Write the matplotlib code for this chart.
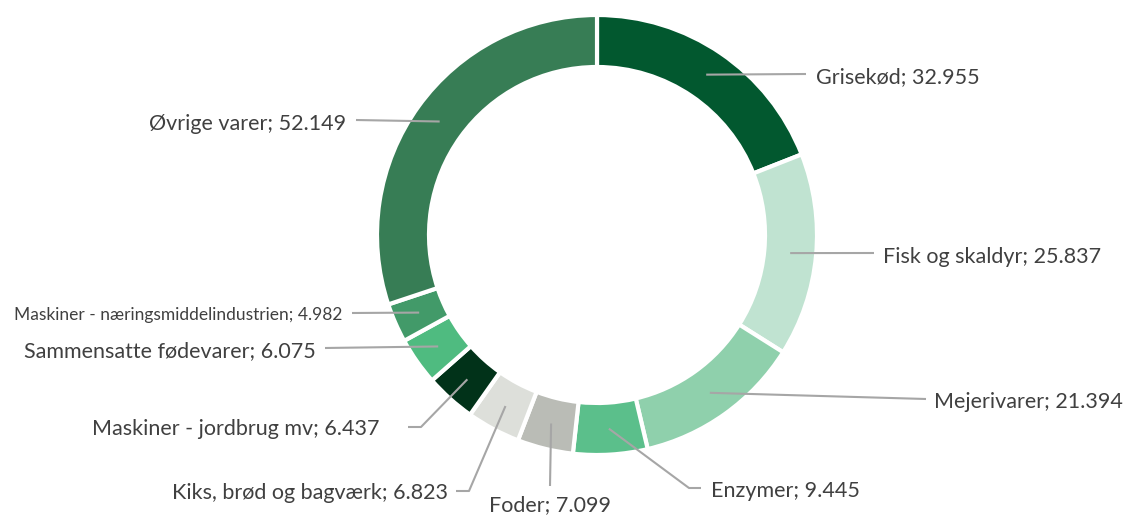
import numpy as np
import matplotlib
matplotlib.use('Agg')
import matplotlib.pyplot as plt

plt.rcParams['font.family'] = ['Lato', 'DejaVu Sans']

# data
labels = ['Grisekød', 'Fisk og skaldyr', 'Mejerivarer', 'Enzymer', 'Foder',
          'Kiks, brød og bagværk', 'Maskiner - jordbrug mv',
          'Sammensatte fødevarer', 'Maskiner - næringsmiddelindustrien',
          'Øvrige varer']
values = [32.955, 25.837, 21.394, 9.445, 7.099, 6.823, 6.437, 6.075, 4.982, 52.149]
value_text = ['32.955', '25.837', '21.394', '9.445', '7.099', '6.823', '6.437',
              '6.075', '4.982', '52.149']
colors = ['#02582F', '#C0E3D1', '#8FD0AC', '#5BBF8B', '#BABCB6', '#DDDFDA',
          '#013219', '#4FBB80', '#429A69', '#377D55']

W, H = 1124, 515
fig = plt.figure(figsize=(W / 100, H / 100), dpi=100)
ax = fig.add_axes([0, 0, 1, 1])


def py(y):
    # pixel row -> data y
    return H - y


cx, cy, R, width = 597, py(235), 220, 52
wedges, _ = ax.pie(values, colors=colors, startangle=90, counterclock=False,
                   center=(cx, cy), radius=R, frame=True,
                   wedgeprops=dict(width=width, edgecolor='white', linewidth=3))
ax.set_xlim(0, W)
ax.set_ylim(0, H)
ax.set_aspect('equal')
ax.axis('off')

# label layout: (text x, baseline y, ha, fontsize, leader points after anchor)
layout = [
    (816, 83, 'left', 15.5, [(806, 74)]),
    (883, 263, 'left', 15.5, [(874, 253)]),
    (934, 408, 'left', 15.5, [(926, 399)]),
    (711, 497, 'left', 15.5, [(689, 488), (701, 488)]),
    (550, 511, 'center', 15.5, [(550, 486)]),
    (448, 499, 'right', 15.5, [(469, 491), (456, 491)]),
    (379, 435, 'right', 15.5, [(421, 427), (408, 427)]),
    (316, 357, 'right', 15.5, [(325, 348)]),
    (342, 320, 'right', 12.5, [(352, 313)]),
    (346, 130, 'right', 15.5, [(356, 120)]),
]

rmid = R - width / 2
for w, lab, val, (tx, ty, ha, fs, pts) in zip(wedges, labels, value_text, layout):
    ang = np.deg2rad((w.theta1 + w.theta2) / 2)
    ax0 = cx + rmid * np.cos(ang)
    ay0 = cy + rmid * np.sin(ang)
    xs = [ax0] + [p[0] for p in pts]
    ys = [ay0] + [py(p[1]) for p in pts]
    ax.plot(xs, ys, color='#A6A6A6', linewidth=1.5, solid_capstyle='butt')
    ax.text(tx, py(ty), f'{lab}; {val}', ha=ha, va='baseline', fontsize=fs,
            color='#404040')

fig.savefig('out.png', dpi=100)
